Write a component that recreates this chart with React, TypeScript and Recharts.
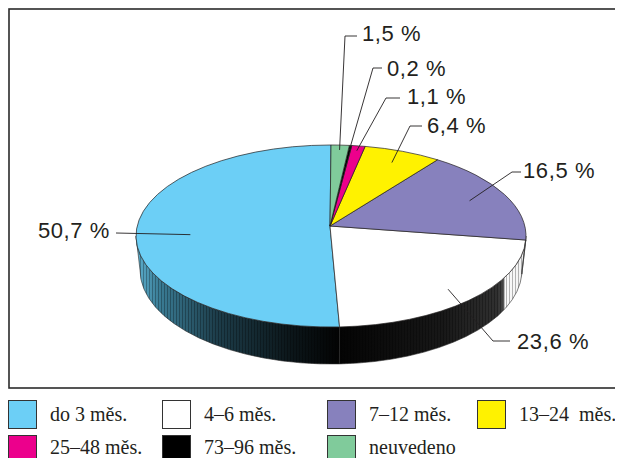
import React from 'react';
import { PieChart, Pie, Legend } from 'recharts';

// ---- data ----
const categories = ['do 3 měs.', '4–6 měs.', '7–12 měs.', '13–24  měs.', '25–48 měs.', '73–96 měs.', 'neuvedeno'];
const shares = [50.7, 23.6, 16.5, 6.4, 1.1, 0.2, 1.5];
const percentLabels = ['50,7 %', '23,6 %', '16,5 %', '6,4 %', '1,1 %', '0,2 %', '1,5 %'];
const colors = ['#6CCFF6', '#FFFFFF', '#8781BD', '#FFF200', '#EC008C', '#000000', '#80CB9B'];

const data = categories.map((name, i) => ({ name, value: shares[i] }));

// ---- layout / style ----
const TEXT = '#231f20';
const FONT = '"Liberation Sans", Arial, Helvetica, sans-serif';
const SERIF = '"Liberation Serif", "Times New Roman", serif';
const TILT = 0.4667; // ry / rx of the top ellipse
const OFF_X = 1;
const OFF_Y = 10;
const DEPTH = 34;
const wallFills = ['url(#wall-blue)', 'url(#wall-white)', '#e8e8e8', '#8a8600', '#6a0040', '#000', '#3d6a4d'];

// leader-line layout per slice: f = fraction toward rim, elbow (ex,ey), horizontal end hx, text pos (tx,ty)
const labelLayout = [
  { f: 0.72, ex: 108, ey: 225, hx: 108, tx: 102, ty: 230, anchor: 'end' },
  { f: 0.85, ex: 485, ey: 333, hx: 502, tx: 509, ty: 341, anchor: 'start' },
  { f: 0.8, ex: 504, ey: 164, hx: 513, tx: 515, ty: 170, anchor: 'start' },
  { f: 0.85, ex: 402, ey: 118, hx: 414, tx: 419, ty: 125, anchor: 'start' },
  { f: 0.94, ex: 378, ey: 90, hx: 392, tx: 399, ty: 96, anchor: 'start' },
  { f: 0.94, ex: 365, ey: 60, hx: 374, tx: 379, ty: 68, anchor: 'start' },
  { f: 0.94, ex: 337, ey: 28, hx: 349, tx: 354, ty: 33, anchor: 'start' },
];

const pt = (cx: number, cy: number, rx: number, ry: number, deg: number) => {
  const r = (deg * Math.PI) / 180;
  return [cx + rx * Math.cos(r), cy - ry * Math.sin(r)];
};

const renderFace = (props: any) => {
  const { cx, cy, outerRadius, startAngle, endAngle, index } = props;
  const s = Math.min(startAngle, endAngle);
  const e = Math.max(startAngle, endAngle);
  const ex = cx + OFF_X;
  const ey = cy + OFF_Y;
  const rx = outerRadius;
  const ry = outerRadius * TILT;
  const rxb = rx - 4;
  const ryb = ry + 3;
  const eyb = ey + DEPTH;

  const walls: string[] = [];
  [[180, 360], [540, 720]].forEach(([lo, hi]) => {
    const a = Math.max(s, lo);
    const b = Math.min(e, hi);
    if (b > a + 0.01) {
      const A = pt(ex, ey, rx, ry, a);
      const B = pt(ex, ey, rx, ry, b);
      const Bb = pt(ex, eyb, rxb, ryb, b);
      const Ab = pt(ex, eyb, rxb, ryb, a);
      walls.push(
        `M${A[0]},${A[1]} A${rx},${ry} 0 0 0 ${B[0]},${B[1]} L${Bb[0]},${Bb[1]} A${rxb},${ryb} 0 0 1 ${Ab[0]},${Ab[1]} Z`
      );
    }
  });

  const P1 = pt(ex, ey, rx, ry, s);
  const P2 = pt(ex, ey, rx, ry, e);
  const large = e - s > 180 ? 1 : 0;
  const face = `M${cx},${cy} L${P1[0]},${P1[1]} A${rx},${ry} 0 ${large} 0 ${P2[0]},${P2[1]} Z`;

  return (
    <g key={`face-${index}`}>
      {walls.map((d, k) => (
        <g key={k}>
          <path d={d} fill={wallFills[index]} stroke="none" />
          {index === 0 || index === 1 ? <path d={d} fill="url(#wall-stripes)" stroke="none" /> : null}
          <path d={d} fill="none" stroke="#2a2a2a" strokeWidth={0.6} />
        </g>
      ))}
      <path d={face} fill={colors[index]} stroke="#231f20" strokeWidth={0.7} strokeLinejoin="round" />
    </g>
  );
};

const renderLeader = (props: any) => {
  const { cx, cy, outerRadius, midAngle, index } = props;
  const L = labelLayout[index];
  const E = pt(cx + OFF_X, cy + OFF_Y, outerRadius, outerRadius * TILT, midAngle);
  const ax = cx + L.f * (E[0] - cx);
  const ay = cy + L.f * (E[1] - cy);
  return (
    <g key={`lbl-${index}`}>
      <polyline
        points={`${ax},${ay} ${L.ex},${L.ey} ${L.hx},${L.ey}`}
        fill="none"
        stroke={TEXT}
        strokeWidth={0.9}
      />
      <text
        x={L.tx}
        y={L.ty}
        textAnchor={L.anchor}
        fontFamily={FONT}
        fontSize={22}
        letterSpacing={0.6}
        fill={TEXT}
      >
        {percentLabels[index]}
      </text>
    </g>
  );
};

const legendCols = [0, 154, 319, 469];

const renderLegend = () => (
  <div style={{ position: 'relative', width: 615, height: 70 }}>
    {categories.map((name, i) => {
      const col = i < 4 ? i : i - 4;
      const row = i < 4 ? 0 : 1;
      const left = legendCols[col];
      const top = 8 + row * 35;
      return (
        <div key={name} style={{ position: 'absolute', left, top, height: 29, whiteSpace: 'pre' }}>
          <div
            style={{
              position: 'absolute',
              left: 0,
              top: 0,
              width: 29,
              height: 29,
              boxSizing: 'border-box',
              background: colors[i],
              border: '1.7px solid #333',
            }}
          />
          <span
            style={{
              position: 'absolute',
              left: 42,
              top: row === 0 ? 0 : -2,
              lineHeight: '29px',
              fontFamily: SERIF,
              fontSize: 20,
              color: TEXT,
            }}
          >
            {name}
          </span>
        </div>
      );
    })}
  </div>
);

export default function App() {
  return (
    <div style={{ width: 615, height: 450 }}>
      <PieChart width={615} height={450} margin={{ top: 0, right: 0, bottom: 0, left: 0 }}>
        <defs>
          <linearGradient id="wall-blue" gradientUnits="userSpaceOnUse" x1={127} y1={0} x2={332} y2={0}>
            <stop offset="0" stopColor="#5fb3d2" />
            <stop offset="0.12" stopColor="#3a7c95" />
            <stop offset="0.4" stopColor="#1d3d4a" />
            <stop offset="0.75" stopColor="#0c171b" />
            <stop offset="1" stopColor="#030303" />
          </linearGradient>
          <linearGradient id="wall-white" gradientUnits="userSpaceOnUse" x1={332} y1={0} x2={519} y2={0}>
            <stop offset="0" stopColor="#040404" />
            <stop offset="0.55" stopColor="#181818" />
            <stop offset="0.84" stopColor="#303030" />
            <stop offset="0.87" stopColor="#444" />
            <stop offset="0.885" stopColor="#fafafa" />
            <stop offset="1" stopColor="#f0f0f0" />
          </linearGradient>
          <pattern id="wall-stripes" patternUnits="userSpaceOnUse" width={3} height={10}>
            <rect x={0} y={0} width={0.8} height={10} fill="rgba(0,0,0,0.35)" />
          </pattern>
        </defs>
        <rect x={1} y={1} width={610} height={379} fill="none" stroke="#2b2b2b" strokeWidth={1.6} />
        <Pie
          data={data}
          dataKey="value"
          nameKey="name"
          cx={322}
          cy={218}
          outerRadius={195}
          startAngle={90}
          endAngle={450}
          fill="none"
          stroke="none"
          label={renderFace}
          labelLine={false}
          isAnimationActive={false}
        />
        <Pie
          data={data}
          dataKey="value"
          nameKey="name"
          cx={322}
          cy={218}
          outerRadius={195}
          startAngle={90}
          endAngle={450}
          fill="none"
          stroke="none"
          label={renderLeader}
          labelLine={false}
          legendType="none"
          isAnimationActive={false}
        />
        <Legend
          content={renderLegend}
          wrapperStyle={{ position: 'absolute', top: 384, left: 0, width: 615, height: 70 }}
        />
      </PieChart>
    </div>
  );
}
